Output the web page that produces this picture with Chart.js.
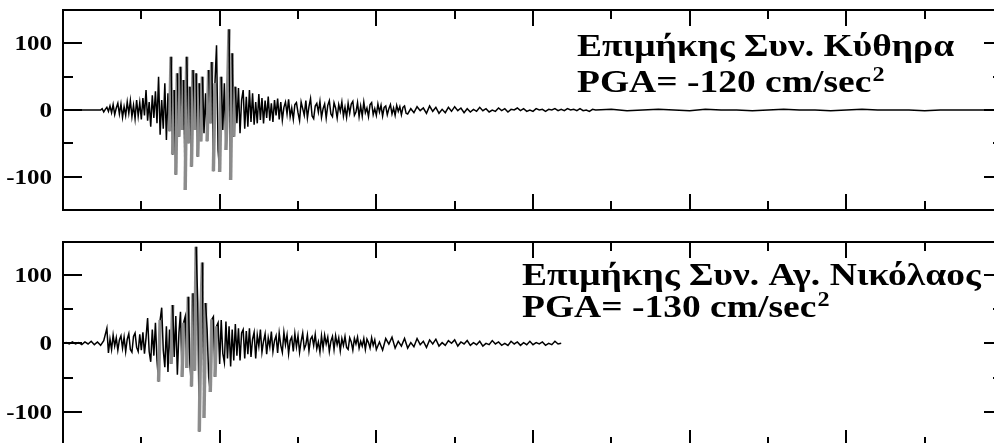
<!DOCTYPE html>
<html>
<head>
<meta charset="utf-8">
<script src="https://cdn.jsdelivr.net/npm/chart.js@4/dist/chart.umd.min.js"></script>
<style>
  body { margin: 0; overflow: hidden; background: #fff; width: 994px; height: 443px; }
  .panel { position: absolute; left: 0; }
</style>
</head>
<body>
<canvas id="kythira" class="panel" width="1010" height="220" style="top:0px"></canvas>
<canvas id="nikolaos" class="panel" width="1010" height="220" style="top:232px"></canvas>
<script>
// Longitudinal component, Kythira (cm/sec^2)
// flat before onset, every 1.2 s from t = 0
const kythiraPre = [0, 0];
// strong motion, every 0.1 s from t = 2.4
const kythiraStrongStart = 2.4;
const kythiraStrong = [
  0, 2, -3, 1, 4, -2,
  6, -4, 8, -7, 3, 10, -6, 9, -11, 5,
  -8, 12, -5, 14, -10, 7, -13, 15, -9, 11,
  -14, 18, -8, 30, -16, 12, -25, 22, -12, 28,
  -20, 50, -37, 15, -28, 40, -45, 25, -32, 80,
  -67, 30, -97, 55, -40, 65, -30, 45, -120, 80,
  -50, 35, -85, 60, -30, 55, -70, 40, -47, 50,
  -35, 25, -47, 60, -20, 72, -92, 40, 97, -60,
  -93, 50, -30, 40, -60, 20, 121, -105, 85, -40,
  35, -20, 33, -35, 15, 30, -28, 20, -25, 30,
  -18, 25, -22, 12, -20, 24, -15, 18, -20, 14,
  -12, 20, -16, 10, -18, 15, -8, 17, -14, 12,
  -15, 4, 12, -6, 16, -10, 3, -14, 8, 11,
  -4, -16, 12, 2, -8, 14, -12, 5, 17, -9,
  -13, 6, 10, -3, 13, -11, 2, 9, -12, 7,
  14, -6, -10, 11, 3, -12, 8, -2, 12, -9,
  4, -11, 10, -5, 9, 13, -8, -3, 11, -10,
  6, -9, 12, -4, 3, -10, 8, 11, -7, 2,
  -8, 9, -3, 7, -9, 4, 6, -7, 2, 8,
  -6, 3, -8, 7, -2, 5, -7, 4, 6, -5
];
// coda, every 0.2 s from t = 22
const kythiraCodaStart = 22;
const kythiraCoda = [
  -6, 2, -4, 5, -1, 3, -5, 6, -2, 4,
  -5, 1, -4, 4, -2, 5, -1, 3, -4, 2,
  -3, 1, -2, 4, -1, 2, -3, 0, -2, 3,
  -1, 2, -3, 1, 0, 3, -1, 2, -2, 0,
  -2, 2, 0, 1, -2, 1, 0, 2, -1, 1,
  -1, 2, 0, 1, -1, 2, -1, 0, -2, 1,
  0
];
// weak tail, every 1 s from t = 35
const kythiraTailStart = 35;
const kythiraTail = [1, -1, 0, 1, 0, -1, 1, 0, 0, -1, 0, 1, 0, 0, -1, 0, 1, 0, 0, 0, -1, 0, 0, 0, 0, 0];

// Longitudinal component, Agios Nikolaos (cm/sec^2)
// pre-event noise, every 0.2 s from t = 0
const nikolaosPre = [0, 1, -1, 2, -1, 1, -2, 2, -1, 3, -2, 2, -3, 4];
// strong motion, every 0.1 s from t = 2.8
const nikolaosStrongStart = 2.8;
const nikolaosStrong = [
  22, -14,
  6, -9, 12, -4, 8, -10, 5, 11, -7, 9,
  -12, 6, 14, -9, -13, 10, 15, -6, -12, 13,
  -10, 16, -15, 8, 37, -12, -27, 20, -18, 30,
  -25, -56, 34, 52, -10, -35, 25, -42, 20, -30,
  56, -20, 40, -46, 15, 46, -49, 30, 39, -36,
  68, -30, -63, 73, -40, 141, 60, -129, 40, 118,
  -109, 59, 20, -50, -71, 35, 39, -49, 25, 30,
  -30, 34, -15, -28, 32, -22, 25, -34, 20, -25,
  28, -18, 22, -25, 15, 20, -22, 18, -16, 22,
  -20, 6, 16, -22, 12, -4, 20, -13, 3, 14,
  -16, 8, -5, 17, -12, 4, 11, -14, 15, -3,
  -13, 16, -2, 12, -15, 4, 9, -12, 14, -5,
  11, -13, 3, 15, -8, -2, 12, -11, 6, 10,
  -3, 13, -8, 2, -13, 11, -7, 12, -1, 9,
  -12, 3, 10, -9, 11, -2, 8, -11, 7, -3,
  10, -6, -9, 8, 2, -10, 7, -1, 9, -7,
  3, -4, 7, -9, 6, 1, -7, 8, -3, 5
];
// coda, every 0.2 s from t = 20
const nikolaosCodaStart = 20;
const nikolaosCoda = [
  -9, 2, -10, 7, -1, 9, -7, 3, -4, 7,
  -7, 1, -5, 7, -2, 3, -6, 5, -1, 6,
  -4, 1, -3, 4, 0, 5, -4, 2, -1, 4,
  -3, 1, -2, 3, -4, 0, -2, 4, -1, 2,
  -3, 0, -3, 3, -1, 2, -3, 1, -2, 3,
  -2, 1, -1, 2, -3, 0, -2, 3, -1, 0
];

const yLabelTicks = [-100, 0, 100];
const yMinorTicks = [-50, 50];
const xMajorTicks = [10, 20, 30, 40, 50];
const xMinorTicks = [5, 15, 25, 35, 45, 55];

const kythiraTitle = ['Επιμήκης Συν. Κύθηρα', 'PGA= -120 cm/sec'];
const nikolaosTitle = ['Επιμήκης Συν. Αγ. Νικόλαος', 'PGA= -130 cm/sec'];

const SERIF = '"Liberation Serif", "Times New Roman", serif';

function toPoints(t0, dt, vals) {
  return vals.map((v, i) => ({ x: t0 + i * dt, y: v }));
}

// frame, inward ticks and y labels, like the original plot
const framePlugin = {
  id: 'frame',
  afterDraw(chart) {
    const ctx = chart.ctx;
    const a = chart.chartArea;
    const xs = chart.scales.x, ys = chart.scales.y;
    ctx.save();
    ctx.strokeStyle = '#000';
    ctx.lineWidth = 2;
    ctx.strokeRect(a.left, a.top, a.right - a.left, a.bottom - a.top);
    ctx.beginPath();
    xMajorTicks.concat(xMinorTicks).forEach(t => {
      const len = xMajorTicks.includes(t) ? 16 : 9;
      const px = Math.round(xs.getPixelForValue(t));
      ctx.moveTo(px, a.top); ctx.lineTo(px, a.top + len);
      ctx.moveTo(px, a.bottom); ctx.lineTo(px, a.bottom - len);
    });
    yLabelTicks.concat(yMinorTicks).forEach(v => {
      const len = yLabelTicks.includes(v) ? 19 : 10;
      const py = Math.round(ys.getPixelForValue(v));
      ctx.moveTo(a.left, py); ctx.lineTo(a.left + len, py);
      ctx.moveTo(a.right, py); ctx.lineTo(a.right - len, py);
    });
    ctx.stroke();

    // y labels, the original font is a little wide
    ctx.fillStyle = '#000';
    ctx.font = 'bold 20px ' + SERIF;
    ctx.textAlign = 'right';
    ctx.textBaseline = 'alphabetic';
    yLabelTicks.forEach(v => {
      const py = ys.getPixelForValue(v);
      ctx.save();
      ctx.translate(a.left - 11, py + 7);
      ctx.scale(1.25, 1);
      ctx.fillText(String(v), 0, 0);
      ctx.restore();
    });
    ctx.restore();
  }
};

const titlePlugin = {
  id: 'stationTitle',
  afterDraw(chart, args, opts) {
    const ctx = chart.ctx;
    ctx.save();
    ctx.fillStyle = '#000';
    ctx.textBaseline = 'alphabetic';
    ctx.translate(opts.x, opts.y);
    ctx.scale(opts.stretch, 1);
    ctx.font = 'bold 31px ' + SERIF;
    ctx.fillText(opts.lines[0], 0, 0);
    ctx.fillText(opts.lines[1], 0, opts.gap);
    const w = ctx.measureText(opts.lines[1]).width;
    ctx.font = 'bold 20px ' + SERIF;
    ctx.fillText('2', w + 1, opts.gap - 11);
    ctx.restore();
  }
};

function makeChart(id, points, yMax, pad, title) {
  new Chart(document.getElementById(id), {
    type: 'line',
    data: {
      datasets: [{
        data: points,
        borderColor: '#000',
        borderWidth: 1.5,
        segment: {
          borderColor: c => (c.p1.parsed.y - c.p0.parsed.y > 70 ? '#8c8c8c' : '#000'),
          borderWidth: c => (c.p1.parsed.y - c.p0.parsed.y > 70 ? 3.5 : 1.5)
        }
      }]
    },
    options: {
      responsive: false,
      animation: false,
      devicePixelRatio: 1,
      layout: { padding: pad },
      elements: { point: { radius: 0 }, line: { tension: 0 } },
      plugins: { legend: { display: false }, tooltip: { enabled: false }, stationTitle: title },
      scales: {
        x: { type: 'linear', min: 0, max: 60, display: false },
        y: { type: 'linear', min: -150, max: yMax, display: false }
      }
    },
    plugins: [framePlugin, titlePlugin]
  });
}

makeChart('kythira',
  toPoints(0, 1.2, kythiraPre)
    .concat(toPoints(kythiraStrongStart, 0.1, kythiraStrong))
    .concat(toPoints(kythiraCodaStart, 0.2, kythiraCoda))
    .concat(toPoints(kythiraTailStart, 1, kythiraTail)),
  150, { top: 10, bottom: 10, left: 63, right: 7 },
  { lines: kythiraTitle, x: 577, y: 56, gap: 36, stretch: 1.21 });

makeChart('nikolaos',
  toPoints(0, 0.2, nikolaosPre)
    .concat(toPoints(nikolaosStrongStart, 0.1, nikolaosStrong))
    .concat(toPoints(nikolaosCodaStart, 0.2, nikolaosCoda)),
  148, { top: 10, bottom: 6, left: 63, right: 7 },
  { lines: nikolaosTitle, x: 522, y: 53, gap: 32, stretch: 1.21 });
</script>
</body>
</html>
